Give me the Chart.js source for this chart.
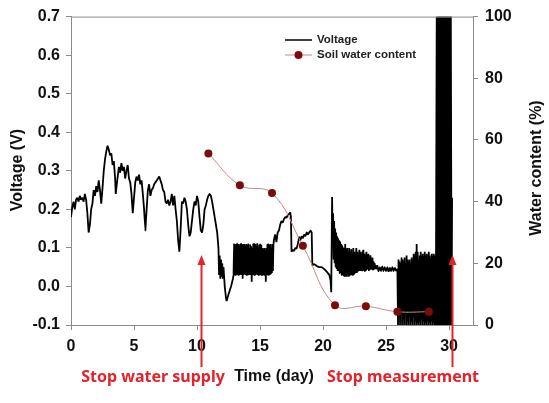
<!DOCTYPE html>
<html>
<head>
<meta charset="utf-8">
<script src="https://cdn.jsdelivr.net/npm/chart.js@4.4.1/dist/chart.umd.min.js"></script>
<style>
  html, body { margin: 0; padding: 0; background: #fff; }
  #wrap { width: 549px; height: 403px; }
</style>
</head>
<body>
<div id="wrap"><canvas id="myChart" width="549" height="403"></canvas></div>
<script>
// soil water content samples (day, %)
const soilDays = [10.9, 13.4, 15.95, 18.4, 20.95, 23.4, 25.9, 28.4];
const soilWater = [55.6, 45.3, 42.8, 25.7, 6.4, 6.1, 4.3, 4.3];

// voltage readings: [day, volts]
const voltageReadings = [
  [0, 0.18], [0.1, 0.205], [0.2, 0.22], [0.3, 0.2], [0.4, 0.225], [0.5, 0.23], [0.6, 0.22], [0.7, 0.235],
  [0.8, 0.225], [0.9, 0.23], [1.0, 0.22], [1.1, 0.24], [1.2, 0.225], [1.3, 0.19], [1.4, 0.14], [1.5, 0.16],
  [1.6, 0.2], [1.7, 0.215], [1.8, 0.25], [1.9, 0.235], [2.0, 0.26], [2.1, 0.245], [2.2, 0.275], [2.3, 0.25],
  [2.4, 0.215], [2.5, 0.255], [2.6, 0.3], [2.7, 0.33], [2.8, 0.35], [2.9, 0.365], [3.0, 0.355], [3.1, 0.34],
  [3.2, 0.345], [3.3, 0.315], [3.4, 0.325], [3.5, 0.28], [3.55, 0.24], [3.65, 0.27], [3.8, 0.31], [3.9, 0.295],
  [4.0, 0.32], [4.1, 0.3], [4.2, 0.31], [4.3, 0.28], [4.4, 0.3], [4.5, 0.315], [4.6, 0.28], [4.7, 0.27],
  [4.8, 0.24], [4.9, 0.19], [5.0, 0.23], [5.1, 0.27], [5.2, 0.285], [5.3, 0.275], [5.4, 0.29], [5.5, 0.265],
  [5.6, 0.275], [5.7, 0.24], [5.8, 0.2], [5.9, 0.145], [6.0, 0.2], [6.1, 0.25], [6.2, 0.265], [6.3, 0.235],
  [6.4, 0.25], [6.5, 0.255], [6.6, 0.265], [6.7, 0.27], [6.8, 0.275], [6.9, 0.28], [7.0, 0.285], [7.1, 0.275],
  [7.2, 0.265], [7.3, 0.25], [7.4, 0.245], [7.5, 0.22], [7.6, 0.215], [7.7, 0.225], [7.8, 0.21], [7.9, 0.22],
  [8.0, 0.24], [8.1, 0.21], [8.2, 0.235], [8.3, 0.2], [8.4, 0.17], [8.5, 0.12], [8.6, 0.09], [8.7, 0.15],
  [8.8, 0.22], [8.9, 0.215], [9.0, 0.23], [9.1, 0.22], [9.2, 0.2], [9.3, 0.16], [9.4, 0.13], [9.5, 0.14],
  [9.6, 0.17], [9.7, 0.2], [9.8, 0.22], [9.9, 0.21], [10.0, 0.235], [10.1, 0.22], [10.2, 0.18], [10.3, 0.145],
  [10.4, 0.14], [10.5, 0.16], [10.6, 0.2], [10.7, 0.21], [10.8, 0.225], [10.9, 0.235], [11.0, 0.24], [11.1, 0.235],
  [11.2, 0.22], [11.3, 0.2], [11.4, 0.18], [11.5, 0.16], [11.6, 0.14], [11.7, 0.1],
  [11.75, 0.03], [11.8, 0.08], [11.85, 0.02], [11.9, 0.07], [11.95, 0.025], [12.0, 0.06], [12.05, 0.02], [12.1, 0.05],
  [12.2, 0.0], [12.3, -0.03], [12.35, -0.038], [12.5, -0.02], [12.7, 0.0], [12.85, 0.02],
  // dense band, day 12.9 - 16
  [12.90, 0.03], [12.94, 0.11], [12.98, 0.03], [13.02, 0.108], [13.06, 0.028], [13.10, 0.11], [13.14, 0.032], [13.18, 0.112],
  [13.22, 0.03], [13.26, 0.11], [13.30, 0.028], [13.34, 0.106], [13.38, 0.03], [13.42, 0.11], [13.46, 0.031], [13.50, 0.112],
  [13.54, 0.03], [13.58, 0.108], [13.62, 0.02], [13.66, 0.11], [13.70, 0.03], [13.74, 0.11], [13.78, 0.032], [13.82, 0.105],
  [13.86, 0.03], [13.90, 0.11], [13.94, 0.028], [13.98, 0.108], [14.02, 0.03], [14.06, 0.11], [14.10, 0.03], [14.14, 0.1],
  [14.18, 0.03], [14.22, 0.108], [14.26, 0.03], [14.30, 0.104], [14.34, 0.012], [14.38, 0.1], [14.42, 0.03], [14.46, 0.11],
  [14.50, 0.03], [14.54, 0.112], [14.58, 0.028], [14.62, 0.11], [14.66, 0.03], [14.70, 0.105], [14.74, 0.032], [14.78, 0.112],
  [14.82, 0.03], [14.86, 0.1], [14.90, 0.028], [14.94, 0.108], [14.98, 0.03], [15.02, 0.11], [15.06, 0.03], [15.10, 0.108],
  [15.14, 0.028], [15.18, 0.1], [15.22, 0.03], [15.26, 0.095], [15.30, 0.03], [15.34, 0.1], [15.38, 0.028], [15.42, 0.095],
  [15.46, 0.012], [15.50, 0.1], [15.54, 0.03], [15.58, 0.108], [15.62, 0.03], [15.66, 0.11], [15.70, 0.03], [15.74, 0.105],
  [15.78, 0.03], [15.82, 0.11], [15.86, 0.032], [15.90, 0.1], [15.94, 0.035], [15.98, 0.11], [16.02, 0.04], [16.06, 0.105],
  [16.1, 0.12], [16.2, 0.135], [16.3, 0.115], [16.4, 0.14], [16.5, 0.145], [16.6, 0.16], [16.7, 0.17], [16.8, 0.165],
  [16.9, 0.175], [17.0, 0.18], [17.1, 0.178], [17.2, 0.185], [17.3, 0.188], [17.4, 0.192], [17.45, 0.18], [17.5, 0.09],
  [17.6, 0.095], [17.7, 0.092], [17.8, 0.1], [17.9, 0.098], [18.0, 0.11], [18.1, 0.128], [18.2, 0.12], [18.3, 0.13],
  [18.4, 0.125], [18.5, 0.135], [18.6, 0.13], [18.7, 0.14], [18.8, 0.135], [18.9, 0.14], [19.0, 0.145], [19.1, 0.14],
  [19.15, 0.055], [19.3, 0.058], [19.5, 0.053], [19.7, 0.05], [19.9, 0.05], [20.1, 0.045], [20.3, 0.038], [20.5, 0.03],
  [20.6, 0.015], [20.65, -0.015], [20.72, 0.232],
  // decaying band after the spike
  [20.76, 0.12], [20.80, 0.19], [20.84, 0.07], [20.88, 0.17], [20.92, 0.06], [20.96, 0.15], [21.00, 0.05], [21.04, 0.14],
  [21.08, 0.045], [21.12, 0.13], [21.16, 0.04], [21.20, 0.125], [21.24, 0.04], [21.28, 0.12], [21.32, 0.035], [21.36, 0.115],
  [21.40, 0.035], [21.44, 0.11], [21.48, 0.03], [21.52, 0.105], [21.56, 0.03], [21.60, 0.1], [21.64, 0.028], [21.68, 0.1],
  [21.72, 0.025], [21.76, 0.11], [21.80, 0.025], [21.84, 0.095], [21.88, 0.025], [21.92, 0.1], [21.96, 0.03], [22.00, 0.09],
  [22.04, 0.025], [22.08, 0.1], [22.12, 0.028], [22.16, 0.09], [22.20, 0.03], [22.24, 0.095], [22.28, 0.03], [22.32, 0.085],
  [22.36, 0.028], [22.40, 0.1], [22.44, 0.03], [22.48, 0.09], [22.52, 0.035], [22.56, 0.085], [22.60, 0.035], [22.64, 0.1],
  [22.68, 0.035], [22.72, 0.09], [22.76, 0.038], [22.80, 0.085], [22.84, 0.04], [22.88, 0.095], [22.92, 0.04], [22.96, 0.09],
  [23.00, 0.04], [23.04, 0.085], [23.08, 0.04], [23.12, 0.09], [23.16, 0.04], [23.20, 0.095], [23.24, 0.042], [23.28, 0.085],
  [23.32, 0.04], [23.36, 0.08], [23.40, 0.04], [23.44, 0.09], [23.48, 0.045], [23.52, 0.08], [23.56, 0.045], [23.60, 0.085],
  [23.64, 0.04], [23.68, 0.075], [23.72, 0.045], [23.76, 0.08], [23.80, 0.045], [23.84, 0.07], [23.88, 0.045], [23.92, 0.075],
  [23.96, 0.042], [24.00, 0.065], [24.04, 0.045], [24.08, 0.06],
  [24.2, 0.045], [24.3, 0.055], [24.4, 0.04], [24.5, 0.05], [24.6, 0.04], [24.7, 0.052], [24.8, 0.04], [24.9, 0.05],
  [25.0, 0.04], [25.1, 0.05], [25.2, 0.038], [25.3, 0.048], [25.4, 0.04], [25.5, 0.05], [25.6, 0.04], [25.7, 0.048],
  [25.8, 0.04], [25.9, 0.045],
  // noisy band, day 26 - 29
  [25.95, -0.1], [25.99, 0.07], [26.03, -0.08], [26.07, 0.065], [26.11, -0.1], [26.15, 0.06], [26.19, -0.07], [26.23, 0.075],
  [26.27, -0.1], [26.31, 0.07], [26.35, -0.085], [26.39, 0.065], [26.43, -0.1], [26.47, 0.075], [26.51, -0.07], [26.55, 0.06],
  [26.59, -0.1], [26.63, 0.08], [26.67, -0.09], [26.71, 0.07], [26.75, -0.1], [26.79, 0.065], [26.83, -0.08], [26.87, 0.07],
  [26.91, -0.1], [26.95, 0.06], [26.99, -0.09], [27.03, 0.075], [27.07, -0.1], [27.11, 0.07], [27.15, -0.08], [27.19, 0.085],
  [27.23, -0.1], [27.27, 0.08], [27.31, -0.09], [27.35, 0.09], [27.39, -0.1], [27.43, 0.11], [27.47, -0.095], [27.51, 0.09],
  [27.55, -0.1], [27.59, 0.07], [27.63, -0.09], [27.67, 0.08], [27.71, -0.1], [27.75, 0.09], [27.79, -0.085], [27.83, 0.08],
  [27.87, -0.1], [27.91, 0.085], [27.95, -0.09], [27.99, 0.08], [28.03, -0.1], [28.07, 0.09], [28.11, -0.095], [28.15, 0.08],
  [28.19, -0.1], [28.23, 0.085], [28.27, -0.09], [28.31, 0.08], [28.35, -0.1], [28.39, 0.09], [28.43, -0.095], [28.47, 0.08],
  [28.51, -0.1], [28.55, 0.075], [28.59, -0.09], [28.63, 0.085], [28.67, -0.1], [28.71, 0.08], [28.75, -0.095], [28.79, 0.085],
  [28.83, -0.1], [28.87, 0.08], [28.91, -0.1],
  // saturated block before the logger stopped
  [28.95, -0.1], [29.02, 0.7], [29.09, -0.1], [29.16, 0.7], [29.23, -0.1], [29.30, 0.7], [29.37, -0.1], [29.44, 0.7],
  [29.51, -0.1], [29.58, 0.7], [29.65, -0.1], [29.72, 0.7], [29.79, -0.1], [29.86, 0.7], [29.93, -0.1], [30.00, 0.7],
  [30.07, -0.1], [30.14, 0.7], [30.2, -0.1], [30.24, 0.23]
];

const xTicks = [0, 5, 10, 15, 20, 25, 30];
const stopDays = [10.3, 30.25];
const stopLabels = ["Stop water supply", "Stop measurement"];
const stopLabelX = [153, 403];

const axisGrey = "#8c8c8c";
const redText = "#e3222a";
const tickFont = { family: "'Liberation Sans', Arial, sans-serif", size: 16, weight: "bold" };

const voltagePoints = voltageReadings.map(r => ({ x: r[0], y: r[1] }));
const soilPoints = soilDays.map((d, i) => ({ x: d, y: soilWater[i] }));

// legend, axis titles, top frame and the red notes
const extras = {
  id: "extras",
  afterDraw(chart) {
    const ctx = chart.ctx;
    const area = chart.chartArea;
    const x = chart.scales.x;
    ctx.save();

    ctx.strokeStyle = axisGrey;
    ctx.lineWidth = 1;
    ctx.beginPath();
    ctx.moveTo(area.left, area.top + 0.5);
    ctx.lineTo(area.right, area.top + 0.5);
    ctx.stroke();

    // legend
    ctx.strokeStyle = "#000";
    ctx.lineWidth = 1.5;
    ctx.beginPath();
    ctx.moveTo(285, 40);
    ctx.lineTo(312, 40);
    ctx.stroke();
    ctx.strokeStyle = "#c48a84";
    ctx.lineWidth = 1;
    ctx.beginPath();
    ctx.moveTo(285, 55);
    ctx.lineTo(312, 55);
    ctx.stroke();
    ctx.fillStyle = "#7a0c0c";
    ctx.beginPath();
    ctx.arc(298.5, 55, 4, 0, Math.PI * 2);
    ctx.fill();
    ctx.fillStyle = "#222";
    ctx.font = "bold 11.5px 'Liberation Sans', Arial, sans-serif";
    ctx.textBaseline = "middle";
    ctx.textAlign = "left";
    ctx.fillText("Voltage", 317, 40);
    ctx.fillText("Soil water content", 317, 55);

    // axis titles
    ctx.font = "bold 16px 'Liberation Sans', Arial, sans-serif";
    ctx.textAlign = "center";
    ctx.fillStyle = "#111";
    ctx.fillText("Time (day)", 274, 377);
    ctx.save();
    ctx.translate(18, 170);
    ctx.rotate(-Math.PI / 2);
    ctx.fillText("Voltage (V)", 0, 0);
    ctx.restore();
    ctx.save();
    ctx.translate(537, 168);
    ctx.rotate(-Math.PI / 2);
    ctx.fillText("Water content (%)", 0, 0);
    ctx.restore();

    // red arrows and notes
    ctx.strokeStyle = redText;
    ctx.fillStyle = redText;
    ctx.lineWidth = 2;
    stopDays.forEach((d, i) => {
      const px = Math.round(x.getPixelForValue(d)) + 0.5;
      ctx.beginPath();
      ctx.moveTo(px, 367);
      ctx.lineTo(px, 262);
      ctx.stroke();
      ctx.beginPath();
      ctx.moveTo(px, 255);
      ctx.lineTo(px - 4, 265);
      ctx.lineTo(px + 4, 265);
      ctx.closePath();
      ctx.fill();
      ctx.font = "bold 16px 'Noto Sans', sans-serif";
      ctx.fillText(stopLabels[i], stopLabelX[i], 377);
    });
    ctx.restore();
  }
};

const ctx = document.getElementById("myChart");
new Chart(ctx, {
  type: "line",
  data: {
    datasets: [
      {
        label: "Soil water content",
        data: soilPoints,
        yAxisID: "y1",
        borderColor: "#c48a84",
        borderWidth: 1,
        pointRadius: 4,
        pointBackgroundColor: "#7a0c0c",
        pointBorderColor: "#7a0c0c",
        pointBorderWidth: 0,
        tension: 0.4,
        order: 0
      },
      {
        label: "Voltage",
        data: voltagePoints,
        yAxisID: "y",
        borderColor: "#000",
        borderWidth: 1.8,
        borderJoinStyle: "bevel",
        pointRadius: 0,
        tension: 0.0001,
        order: 1
      }
    ]
  },
  options: {
    responsive: false,
    devicePixelRatio: 1,
    animation: false,
    layout: { padding: { top: 14, left: 0, right: 0, bottom: 0 } },
    plugins: { legend: { display: false }, tooltip: { enabled: false } },
    scales: {
      x: {
        type: "linear",
        min: 0,
        max: 31.9,
        afterFit(scale) { scale.height = 78; },
        afterBuildTicks(scale) { scale.ticks = xTicks.map(v => ({ value: v })); },
        ticks: { color: "#111", font: tickFont, padding: 7, maxRotation: 0 },
        grid: { drawOnChartArea: false, tickLength: 5, color: axisGrey },
        border: { color: axisGrey }
      },
      y: {
        position: "left",
        min: -0.1,
        max: 0.7,
        afterFit(scale) { scale.width = 71; },
        ticks: {
          stepSize: 0.1, color: "#111", font: tickFont, padding: 6,
          callback: v => (Math.abs(v) < 1e-9 ? 0 : v).toFixed(1)
        },
        grid: { drawOnChartArea: false, tickLength: 5, color: axisGrey },
        border: { color: axisGrey }
      },
      y1: {
        position: "right",
        min: 0,
        max: 100,
        afterFit(scale) { scale.width = 76; },
        ticks: { stepSize: 20, color: "#111", font: tickFont, padding: 7 },
        grid: { drawOnChartArea: false, tickLength: 5, color: axisGrey },
        border: { color: axisGrey }
      }
    }
  },
  plugins: [extras]
});
</script>
</body>
</html>
